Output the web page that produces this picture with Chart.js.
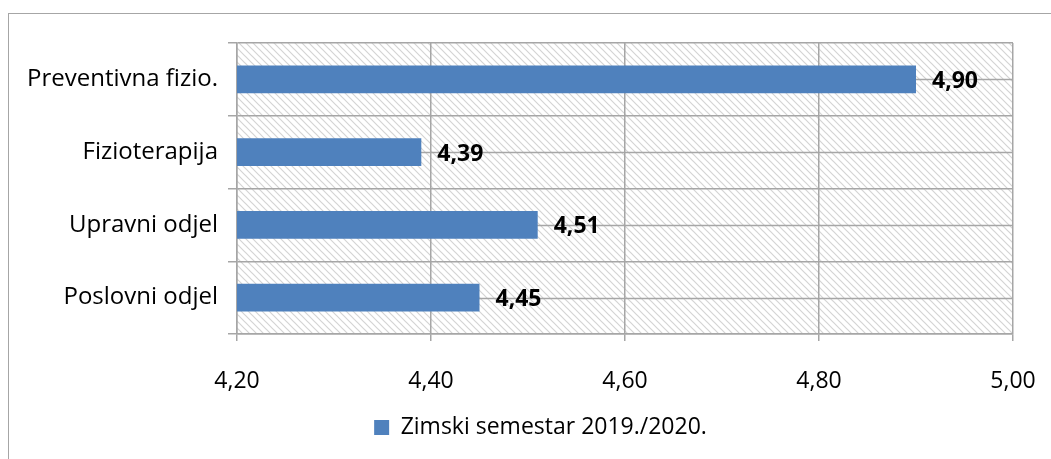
<!DOCTYPE html>
<html>
<head>
<meta charset="utf-8">
<script src="https://cdn.jsdelivr.net/npm/chart.js@4.4.1/dist/chart.umd.min.js"></script>
<style>
  html, body { margin: 0; padding: 0; background: #fff; overflow: hidden; }
  #wrap { position: relative; width: 1051px; height: 459px; }
  #frame { position: absolute; left: 8px; top: 13px; width: 1100px; height: 500px; border: 1.5px solid #a6a6a6; box-sizing: border-box; }
  canvas { position: absolute; left: 0; top: 0; }
</style>
</head>
<body>
<div id="wrap">
  <div id="frame"></div>
  <canvas id="chart" width="1051" height="459"></canvas>
</div>
<script>
// categories and values, top to bottom
const categories = ["Preventivna fizio.", "Fizioterapija", "Upravni odjel", "Poslovni odjel"];
const values = [4.90, 4.39, 4.51, 4.45];
const seriesName = "Zimski semestar 2019./2020.";
const xTicks = [4.20, 4.40, 4.60, 4.80, 5.00];

const barColor = "#4f81bd";
const gridColor = "#a6a6a6";

function fmt(v) {
    return v.toFixed(2).replace(".", ",");
}

// diagonal hatch for the plot area
function makeHatch() {
    const c = document.createElement("canvas");
    c.width = 7; c.height = 7;
    const g = c.getContext("2d");
    g.fillStyle = "#ffffff";
    g.fillRect(0, 0, 7, 7);
    g.strokeStyle = "#d4d4d4";
    g.lineWidth = 1.2;
    g.beginPath();
    g.moveTo(-1, -1); g.lineTo(8, 8);
    g.moveTo(-8, -1); g.lineTo(1, 8);
    g.moveTo(6, -1); g.lineTo(15, 8);
    g.stroke();
    return g.createPattern(c, "repeat");
}

const plotDecor = {
    id: "plotDecor",
    afterLayout(chart) {
        // legend sits a bit right of centre in the original
        const lg = chart.legend;
        if (lg) { lg.left += 34; lg.right += 34; }
    },
    beforeDraw(chart) {
        const { ctx, chartArea: a } = chart;
        ctx.save();
        ctx.fillStyle = makeHatch();
        ctx.fillRect(a.left, a.top, a.right - a.left, a.bottom - a.top);
        ctx.restore();
    },
    beforeDatasetsDraw(chart) {
        // lines through category centres
        const { ctx, chartArea: a } = chart;
        const y = chart.scales.y;
        ctx.save();
        ctx.strokeStyle = gridColor;
        ctx.lineWidth = 1.5;
        categories.forEach((c, i) => {
            const py = Math.round(y.getPixelForValue(i)) + 0.5;
            ctx.beginPath();
            ctx.moveTo(a.left, py);
            ctx.lineTo(a.right, py);
            ctx.stroke();
        });
        ctx.restore();
    },
    afterDatasetsDraw(chart) {
        const { ctx } = chart;
        const meta = chart.getDatasetMeta(0);
        ctx.save();
        ctx.font = "bold 23px 'Open Sans'";
        ctx.fillStyle = "#000";
        ctx.textBaseline = "middle";
        ctx.textAlign = "left";
        meta.data.forEach((bar, i) => {
            ctx.fillText(fmt(values[i]), bar.x + 16, bar.y + 2);
        });
        ctx.restore();
    }
};

new Chart(document.getElementById("chart"), {
    type: "bar",
    data: {
        labels: categories,
        datasets: [{
            label: seriesName,
            data: values,
            backgroundColor: barColor,
            borderWidth: 0,
            barPercentage: 0.38,
            categoryPercentage: 1
        }]
    },
    options: {
        indexAxis: "y",
        responsive: false,
        animation: false,
        layout: { padding: { top: 43, right: 38, left: 0, bottom: 10 } },
        scales: {
            x: {
                min: 4.2,
                max: 5.0,
                afterBuildTicks: s => { s.ticks = xTicks.map(v => ({ value: v })); },
                afterFit: s => { s.height = 72; s.paddingLeft = 0; s.paddingRight = 0; },
                grid: { color: gridColor, lineWidth: 1.5, tickLength: 7 },
                border: { color: gridColor, width: 1.5 },
                ticks: {
                    color: "#000",
                    padding: 27,
                    font: { family: "Open Sans", size: 23 },
                    callback: v => fmt(v)
                }
            },
            y: {
                afterFit: s => { s.width = 237; },
                grid: { color: gridColor, lineWidth: 1.5, tickLength: 9, offset: true },
                border: { color: gridColor, width: 1.5 },
                ticks: {
                    color: "#000",
                    padding: 10,
                    font: { family: "Open Sans", size: 24 }
                }
            }
        },
        plugins: {
            tooltip: { enabled: false },
            legend: {
                position: "bottom",
                labels: {
                    color: "#000",
                    boxWidth: 15,
                    boxHeight: 15,
                    padding: 10,
                    font: { family: "Open Sans", size: 23 }
                }
            }
        }
    },
    plugins: [plotDecor]
});
</script>
</body>
</html>
